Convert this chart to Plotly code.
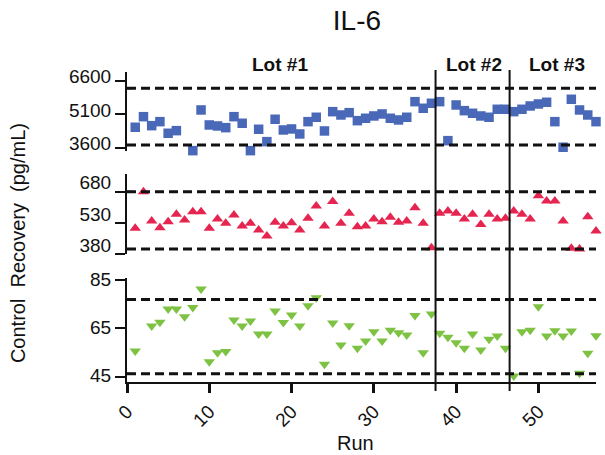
import plotly.graph_objects as go

# ---- data -------------------------------------------------------------
runs = list(range(1, 58))

# top panel (squares); run 7 has no result
top_runs = [r for r in runs if r != 7]
top_vals = [4515, 4988, 4586, 4765, 4246, 4363, 3469, 5288, 4617, 4573,
            4497, 4988, 4693, 3469, 4425, 3871, 4872, 4394, 4439, 4215,
            4765, 4962, 4349, 5212, 5064, 5167, 4810, 4917, 5020, 5109,
            4917, 4841, 4962, 5659, 5364, 5587, 5659, 3916, 5511, 5257,
            5140, 5020, 4962, 5319, 5319, 5212, 5319, 5467, 5556, 5632,
            4765, 3621, 5766, 5288, 5064, 4765]

# middle panel (triangles up)
mid_runs = runs
mid_vals = [505, 680, 540, 508, 537, 572, 545, 585, 585, 505,
            550, 529, 569, 516, 529, 497, 468, 534, 516, 532,
            497, 553, 612, 516, 633, 529, 577, 513, 516, 550,
            537, 558, 534, 540, 604, 529, 412, 577, 588, 577,
            550, 572, 524, 572, 550, 553, 588, 572, 550, 661,
            636, 636, 540, 410, 406, 561, 492]

# bottom panel (triangles down); run 2 has no result
low_runs = [r for r in runs if r != 2]
low_vals = [55.6, 66.0, 67.5, 73.0, 73.0, 69.8, 73.7, 81.3, 51.2, 54.9,
            55.4, 68.5, 66.0, 68.1, 62.7, 62.7, 72.2, 67.4, 70.6, 66.0,
            74.4, 77.7, 50.1, 67.2, 58.1, 66.1, 56.8, 59.8, 63.6, 59.8,
            64.2, 63.2, 62.3, 70.3, 54.9, 71.0, 63.0, 61.3, 59.1, 56.8,
            62.7, 56.1, 60.5, 61.9, 56.8, 45.3, 63.6, 64.2, 74.0, 61.9,
            64.0, 61.9, 63.9, 46.4, 54.7, 62.0]

# control limits (upper, lower) per panel
top_limits = [6260, 3725]
mid_limits = [680, 406]
low_limits = [77.0, 46.2]

# tick labels
top_ticks = [3600, 5100, 6600]
mid_ticks = [380, 530, 680]
low_ticks = [45, 65, 85]
x_ticks = [0, 10, 20, 30, 40, 50]

# lot boundaries and labels
lot_breaks = [37.5, 46.5]
lot_names = ["Lot #1", "Lot #2", "Lot #3"]
lot_label_x = [18.6, 42.2, 52.2]

# ---- figure -----------------------------------------------------------
FONT = "Liberation Sans, Arial, sans-serif"
BLUE = "#4A68B8"
RED = "#E5254F"
GREEN = "#7DC242"
INK = "#111111"
X_MAX = 57
PAD = "\u00a0\u00a0\u00a0\u00a0"  # keeps y tick labels clear of the tick marks

fig = go.Figure()
fig.add_trace(go.Scatter(x=top_runs, y=top_vals, mode="markers", yaxis="y",
                         marker=dict(symbol="square", size=9.5, color=BLUE),
                         cliponaxis=False, showlegend=False))
fig.add_trace(go.Scatter(x=mid_runs, y=mid_vals, mode="markers", yaxis="y2",
                         marker=dict(symbol="triangle-up", size=10, color=RED),
                         cliponaxis=False, showlegend=False))
fig.add_trace(go.Scatter(x=low_runs, y=low_vals, mode="markers", yaxis="y3",
                         marker=dict(symbol="triangle-down", size=10, color=GREEN),
                         cliponaxis=False, showlegend=False))

shapes = []
for yref, lims in (("y", top_limits), ("y2", mid_limits), ("y3", low_limits)):
    for v in lims:
        shapes.append(dict(type="line", xref="x", yref=yref, x0=0, x1=X_MAX,
                           y0=v, y1=v,
                           line=dict(color=INK, width=3, dash="9px,5px")))
        shapes.append(dict(type="line", xref="x", yref=yref, x0=-0.35, x1=0.6,
                           y0=v, y1=v, line=dict(color=INK, width=2)))
for b in lot_breaks:
    shapes.append(dict(type="line", xref="x", yref="paper", x0=b, x1=b,
                       y0=-0.028, y1=0.969, line=dict(color=INK, width=2)))

annotations = []
for name, lx in zip(lot_names, lot_label_x):
    annotations.append(dict(text="<b>" + name + "</b>", x=lx, xref="x",
                            y=0.987, yref="paper", showarrow=False,
                            xanchor="center", yanchor="middle",
                            font=dict(family=FONT, size=19, color=INK)))
annotations.append(dict(text="Control  Recovery  (pg/mL)", textangle=-90,
                        x=-0.232, xref="paper", y=0.432, yref="paper",
                        showarrow=False, xanchor="center", yanchor="middle",
                        font=dict(family=FONT, size=20, color=INK)))
annotations.append(dict(text="Run", x=0.488, xref="paper", y=-0.19,
                        yref="paper", showarrow=False, xanchor="center",
                        yanchor="middle",
                        font=dict(family=FONT, size=20, color=INK)))

yaxis_common = dict(anchor="x", showline=True, linewidth=2, linecolor=INK,
                    ticks="outside", ticklen=10, tickwidth=2, tickcolor=INK,
                    showgrid=False, zeroline=False, ticksuffix=PAD,
                    tickfont=dict(family=FONT, size=19, color=INK))

fig.update_layout(
    width=605, height=455,
    margin=dict(l=127, r=9, t=60, b=73),
    paper_bgcolor="white", plot_bgcolor="white",
    title=dict(text="IL-6", x=0.59, xanchor="center", y=0.955,
               yanchor="middle", font=dict(family=FONT, size=28, color=INK)),
    xaxis=dict(anchor="y3", range=[0, X_MAX], tickvals=x_ticks,
               tickangle=-45, showline=True, linewidth=2, linecolor=INK,
               ticks="outside", ticklen=9, tickwidth=2.5, tickcolor=INK,
               showgrid=False, zeroline=False,
               tickfont=dict(family=FONT, size=19, color=INK)),
    yaxis=dict(domain=[0.7165, 0.9637], range=[3440, 7000],
               tickvals=top_ticks, ticklabelshift=-4, **yaxis_common),
    yaxis2=dict(domain=[0.396, 0.646], range=[380, 765],
                tickvals=mid_ticks, ticklabelshift=-9, **yaxis_common),
    yaxis3=dict(domain=[0.0, 0.3239], range=[42.8, 86],
                tickvals=low_ticks, ticklabelshift=-1, **yaxis_common),
    shapes=shapes,
    annotations=annotations,
)

fig.write_html("out.html")
